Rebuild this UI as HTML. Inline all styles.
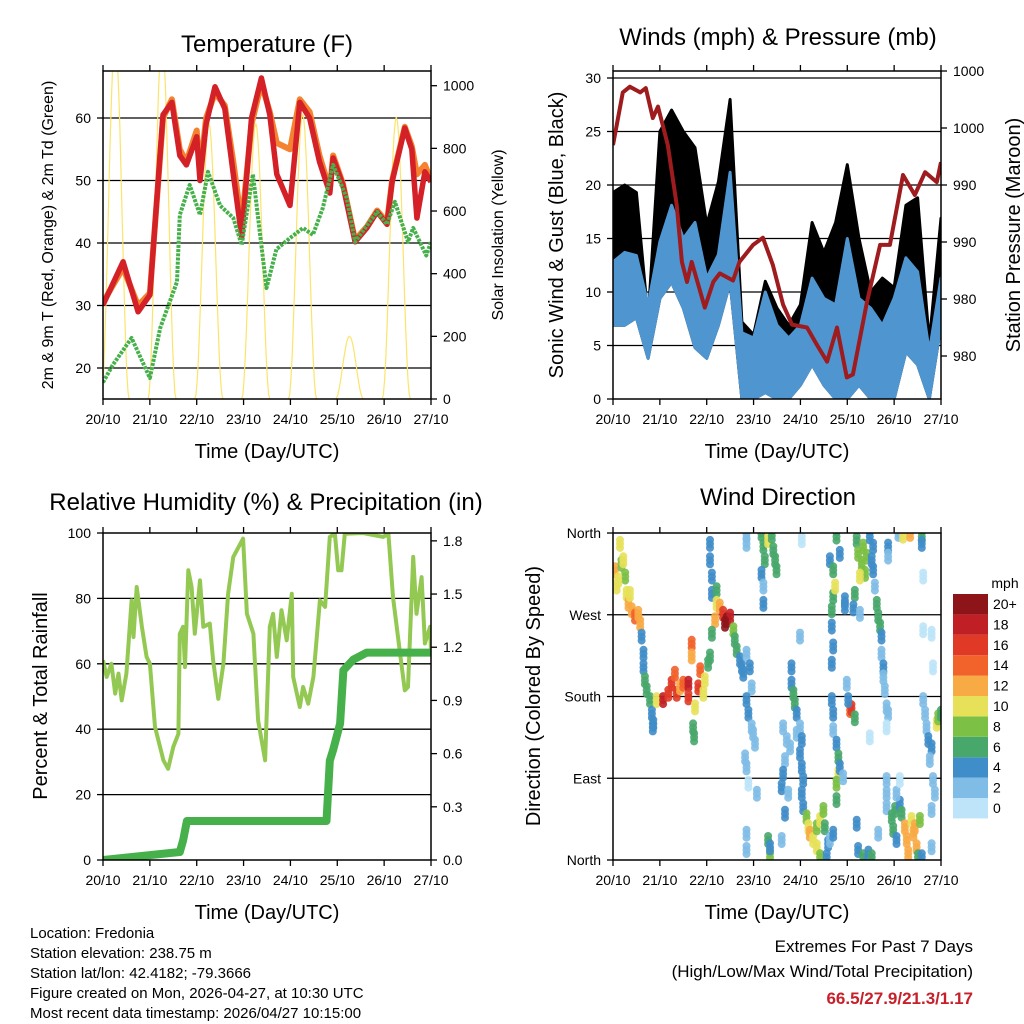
<!DOCTYPE html>
<html><head><meta charset="utf-8"><style>
body{margin:0;background:#fff}
svg{display:block;font-family:"Liberation Sans",sans-serif}
</style></head><body>
<svg id="c" width="1024" height="1024" viewBox="0 0 1024 1024">
<defs>
<clipPath id="cp1"><rect x="103" y="71" width="328" height="328"/></clipPath>
<clipPath id="cp2"><rect x="613" y="71" width="328" height="328"/></clipPath>
<clipPath id="cp3"><rect x="103" y="533" width="328" height="327"/></clipPath>
<clipPath id="cp4"><rect x="613" y="533" width="328" height="327"/></clipPath>
</defs>
<g id="layer"></g>
</svg>
<script>
// ---------- data ----------
const dayLabels = ['20/10','21/10','22/10','23/10','24/10','25/10','26/10','27/10'];
const tempDays = [0,0.43,0.75,1.0,1.28,1.47,1.64,1.78,2.0,2.07,2.2,2.39,2.6,2.78,2.96,3.17,3.38,3.56,3.71,3.99,4.2,4.41,4.62,4.84,4.91,5.12,5.38,5.63,5.85,6.06,6.17,6.44,6.59,6.7,6.87,7.0];
const temp2m = [30.1,37,29,31.7,60.5,62.5,54,52.5,57,50,59,65,61.5,51,41,60,66.4,60.5,51,46,62.5,60,53,48,53.6,49.3,40.2,42.4,45,43,49.8,58.4,55,44,51.4,49.8];
const temp9m = [30.5,36,30,32,60,63,55,53,58,51,60,64,62,53,43,59,65.5,61,56,55,63,61,54,48.5,54,49.5,40.5,42.6,45.2,43.3,50,58.6,55.5,51,52.5,50];
const dewDays = [0,0.21,0.61,1.0,1.22,1.58,1.64,1.85,2.07,2.24,2.5,2.78,2.96,3.2,3.49,3.7,3.99,4.27,4.48,4.69,4.91,5.2,5.38,5.85,6.06,6.23,6.51,6.62,6.9,7.0];
const dewPoint = [17.7,20.5,24.8,18.4,26.4,33.8,44.5,49.3,44.5,51.4,46,44,39.7,51,32.8,39,40.8,42.4,41.3,45.6,52.5,47.2,40.2,45,43,46.6,40.2,42.4,38,40.2];
const solarPeak = [1150,1150,880,880,910,200,900];
const windDays = [0,0.25,0.5,0.75,1,1.25,1.5,1.75,2,2.25,2.5,2.75,3,3.25,3.5,3.75,4,4.25,4.5,4.75,5,5.25,5.5,5.75,6,6.25,6.5,6.75,7];
const windLo = [6.9,6.9,7.6,3.8,9.4,10.9,8.5,4.8,3.8,6.9,10.9,0,0,0.6,0,0,1.3,3.2,1.3,0,0,1.3,0,0,0,4.4,3.2,0,6.9];
const windHi = [12.8,13.7,13.4,8.8,14.7,18.1,15,16.5,11.3,13.5,21.2,6.2,5.7,10,6.9,5.7,6.9,11.3,9.4,8.8,15,9.4,8.5,6.9,9.4,13.2,11.9,4.4,11.3];
const gustHi = [19.3,20,19.3,7.5,25,27,25,23.5,16.3,20.3,28,7.2,6,11,8.5,6.9,8.8,16.5,13.7,16.5,21.9,15,10,11.3,10.4,18.1,18.8,5.3,16.9];
const presDays = [0,0.21,0.36,0.58,0.7,0.85,0.96,1.17,1.36,1.47,1.58,1.68,1.82,1.96,2.14,2.28,2.56,2.7,2.99,3.2,3.41,3.63,3.82,4.14,4.35,4.57,4.78,4.99,5.12,5.42,5.7,5.91,6.19,6.44,6.66,6.91,7.0];
const pressure = [994.8,998.5,998.9,998.5,998.8,996.7,997.5,994.8,990.6,986.6,985.2,986.6,985,983.4,985.2,985.8,985.3,986.6,987.8,988.3,986.4,983.6,982.2,982,980.8,979.6,982,978.5,978.7,983.8,987.8,987.8,992.7,991.3,992.9,992.2,993.6];
const presTicks = [980,984,988,992,996,1000];
const presLabels = ['980','980','990','990','1000','1000'];
const rhDays = [0,0.08,0.18,0.26,0.33,0.40,0.50,0.61,0.65,0.72,0.83,0.93,1.0,1.11,1.29,1.39,1.50,1.61,1.64,1.71,1.75,1.82,1.89,1.96,2.07,2.14,2.28,2.35,2.46,2.57,2.67,2.78,2.99,3.07,3.21,3.24,3.31,3.46,3.56,3.63,3.71,3.81,3.92,4.03,4.06,4.20,4.27,4.38,4.49,4.63,4.74,4.84,4.95,5.02,5.09,5.16,5.55,5.98,6.09,6.19,6.34,6.44,6.51,6.62,6.69,6.80,6.87,6.98,7.0];
const rhVals = [61.1,56,60,50.9,57,48.8,57,79.4,68.2,83.5,71.3,62.1,60,40.7,30.5,27.9,34.6,38.6,69.2,71.3,59,88.6,83.5,69.2,85.5,71.3,72.3,61.1,49.3,60,81.4,92.7,98.3,75.3,69.2,61.1,42.7,30.5,71.3,75.3,62.1,76.4,67.2,81.4,56,46.8,52.9,47.8,56,79.4,77.4,98.8,99.8,88.6,88.6,99.8,100,98.8,99.8,80.4,63.1,51.9,52.9,92.7,75.3,86.5,66.2,71.3,64.1];
const precipDays = [0,1.64,1.71,1.79,4.77,4.84,4.91,5.06,5.13,5.34,5.63,7.0];
const precipVals = [0,0.045,0.11,0.22,0.22,0.56,0.62,0.77,1.07,1.13,1.17,1.17];
const dirDay = [0.04,0.08,0.15,0.18,0.26,0.29,0.33,0.40,0.47,0.54,0.58,0.36,0.11,0.22,
0.61,0.65,0.65,0.68,0.72,0.79,0.83,0.86,0.85,
0.93,1.07,1.18,1.25,1.32,1.36,1.43,1.50,1.61,1.61,1.68,1.68,1.75,1.82,1.86,1.93,1.96,2.03,2.07,1.71,1.73,
2.07,2.07,2.11,2.11,2.21,2.21,2.28,2.35,2.43,2.50,2.39,2.18,2.11,2.57,2.60,2.64,2.71,2.75,2.78,2.85,2.92,2.96,2.85,2.89,2.96,2.99,3.03,2.82,2.85,2.89,3.07,2.85,2.85,
3.17,3.21,3.24,3.31,3.39,3.42,3.46,3.49,3.17,3.21,3.21,2.85,2.85,4.03,3.99,
3.31,3.35,3.35,3.60,
3.81,3.81,3.85,3.88,3.92,3.63,3.71,3.78,3.67,3.63,3.60,3.67,3.74,3.92,3.99,4.03,3.99,4.03,4.06,4.03,4.06,4.13,4.17,4.20,4.27,4.35,4.42,4.35,4.42,4.49,4.52,4.59,4.56,4.63,4.70,
4.63,4.70,4.70,4.67,4.67,4.70,4.67,4.67,4.70,4.70,4.77,4.81,4.81,4.77,4.77,4.84,4.91,4.77,4.84,4.74,
4.95,4.95,4.99,5.06,5.09,5.16,5.02,5.20,5.23,5.34,5.45,5.52,
5.20,5.23,5.31,5.34,5.38,5.27,5.41,5.48,5.55,5.52,5.16,5.13,5.27,5.55,5.59,5.63,5.66,5.70,5.73,5.73,5.77,5.77,5.80,5.84,5.87,5.84,5.84,5.84,5.84,5.48,5.66,
5.87,5.87,6.09,6.19,6.34,6.59,6.59,6.62,6.62,6.80,6.83,
5.95,5.98,6.02,6.05,6.12,6.16,6.23,6.27,6.30,6.37,6.41,6.48,6.44,6.55,6.51,6.59,6.05,6.12,
6.62,6.66,6.69,6.73,6.80,6.76,6.83,6.87,6.80,6.80,6.91,6.94,7.0];
const dirDeg = [319,301,348,326,312,293,282,275,268,271,260,293,308,330,
246,227,212,198,187,176,161,150,146,
176,176,183,194,205,183,190,194,194,179,238,224,168,190,209,183,198,216,224,146,135,
348,330,312,293,297,282,279,271,264,268,260,264,249,253,242,231,220,212,205,227,212,190,176,161,146,139,128,113,102,84,73,29,11,
359,345,330,352,357,341,330,319,315,301,282,359,348,352,246,
22,7,14,22,
212,194,183,172,161,146,132,124,110,95,80,51,73,139,146,132,117,102,88,73,58,47,36,29,22,14,3,36,44,55,36,18,3,22,29,
330,319,290,275,257,235,216,176,161,143,128,113,95,84,66,102,91,356,337,301,
286,279,194,165,167,156,176,40,11,3,7,3,
352,337,326,345,315,312,334,356,345,330,293,277,271,319,301,282,268,257,246,227,212,201,187,168,161,146,88,73,58,135,29,
345,334,359,357,359,356,348,312,253,249,212,
47,33,55,22,62,51,36,22,7,44,29,14,36,44,3,3,73,88,
176,161,146,132,124,110,88,73,55,14,150,157,161];
const dirSpd = [12,10,10,8,8,10,12,12,14,12,12,10,10,10,
4,4,4,6,6,6,4,4,4,
10,18,16,16,14,16,12,14,18,16,14,12,10,16,14,10,10,6,6,6,6,
4,4,4,4,6,10,12,16,20,18,20,12,6,8,6,6,4,4,4,2,4,2,4,4,2,2,2,2,2,0,2,2,2,
6,6,6,10,6,6,6,6,4,2,4,2,2,0,2,
6,8,4,2,
4,4,6,6,4,2,2,2,2,4,4,4,2,2,2,4,4,4,4,4,4,8,10,12,10,10,8,8,10,8,6,4,4,2,4,
4,6,6,6,4,4,4,4,4,2,4,6,10,8,6,4,2,6,4,10,
4,4,2,14,16,6,4,4,4,6,4,6,
6,8,8,8,8,10,8,4,4,4,6,4,2,4,2,6,6,6,4,2,4,2,2,2,2,0,2,2,2,0,2,
4,2,2,10,12,6,4,0,0,0,0,
6,6,6,4,4,6,12,12,12,10,12,12,12,8,6,4,2,0,
2,2,2,4,4,2,2,2,2,2,10,8,6];
const speedLabels = ['0','2','4','6','8','10','12','14','16','18','20+'];
const speedColors = ['#bde4f8','#7fbde6','#3f8dc9','#48a76b','#7cc045','#e7e15a','#f8aa45','#f2622b','#e03a27','#c11f26','#8d1519'];

// ---------- helpers ----------
const NS='http://www.w3.org/2000/svg';
const root=document.getElementById('layer');
function mk(tag,attrs,parent){const e=document.createElementNS(NS,tag);for(const k in attrs)e.setAttribute(k,attrs[k]);(parent||root).appendChild(e);return e;}
function txt(s,x,y,size,anchor,parent,extra){const e=mk('text',Object.assign({x:x,y:y,'font-size':size,'text-anchor':anchor||'middle',fill:'#000'},extra||{}),parent);e.textContent=s;return e;}
const DX=46.857;
const X1=d=>103+d*DX, X2=d=>613+d*DX;
const yT=v=>368-(v-20)*6.25, yS=s=>399-s*0.3133;
const yW=v=>399-v*10.7, yP=p=>356-(p-980)*14.25;
const yR=v=>860-v*3.27, yPr=v=>860-v*177.3;
const yD=g=>860-g*0.9083;
function pts(xs,ys,fx,fy){return xs.map((d,i)=>fx(d).toFixed(1)+','+fy(ys[i]).toFixed(1)).join(' ');}

function frame(x,y,w,h,name,grid){
  const g=mk('g',{});
  
  
  grid.forEach(gy=>mk('line',{x1:x,x2:x+w,y1:gy,y2:gy,stroke:'#000','stroke-width':1.3},g));
  for(let i=0;i<=7;i++){const tx=x+i*DX;
    mk('line',{x1:tx,x2:tx,y1:y,y2:y-6,stroke:'#000','stroke-width':1.3},g);
    mk('line',{x1:tx,x2:tx,y1:y+h,y2:y+h+6,stroke:'#000','stroke-width':1.3},g);
    const t=txt(dayLabels[i],tx,y+h+25,14,'middle',g);
    
    
  }
  const xt=txt('Time (Day/UTC)',x+w/2,y+h+59,20,'middle',g);
  
  
  return g;
}
function box(x,y,w,h){const r=mk('rect',{x:x,y:y,width:w,height:h,fill:'none',stroke:'#000','stroke-width':1.5});}
function ytick(g,x,y,label,side){
  mk('line',{x1:x,x2:x+side*6,y1:y,y2:y,stroke:'#000','stroke-width':1.3},g);
  const t=txt(label,x+side*12,y+5,14,side<0?'end':'start',g);
  
  
}

// ---------- Panel 1: temperature ----------
frame(103,71,328,328,'temperature-panel',[20,30,40,50,60].map(yT));
const g1=mk('g',{'clip-path':'url(#cp1)'});


solarPeak.forEach((pk,day)=>{
  const xs=[],ys=[];
  for(let k=-12;k<=12;k++){const dd=day+0.26+k*0.025;if(dd<0)continue;const f=Math.cos(k/12*Math.PI/2);xs.push(dd);ys.push(pk*f*f);}
  const l=mk('polyline',{points:pts(xs,ys,X1,yS),fill:'none',stroke:'#fbe46b','stroke-width':1.2},g1);
  
  
});
let l9=mk('polyline',{points:pts(tempDays,temp9m,X1,yT),fill:'none',stroke:'#f58230','stroke-width':6,'stroke-linejoin':'round'},g1);


let l2=mk('polyline',{points:pts(tempDays,temp2m,X1,yT),fill:'none',stroke:'#d42027','stroke-width':5.5,'stroke-linejoin':'round'},g1);


let ld=mk('polyline',{points:pts(dewDays,dewPoint,X1,yT),fill:'none',stroke:'#46b04a','stroke-width':4,'stroke-dasharray':'3 1.2','stroke-linejoin':'round'},g1);


box(103,71,328,328);
const a1=mk('g',{});


[20,30,40,50,60].forEach(v=>ytick(a1,103,yT(v),String(v),-1));
[0,200,400,600,800,1000].forEach(v=>ytick(a1,431,yS(v),String(v),1));
txt('Temperature (F)',267,52,24,'middle',a1);
txt('2m & 9m T (Red, Orange) & 2m Td (Green)',0,0,16,'middle',a1,{transform:'translate(53,235) rotate(-90)'});
txt('Solar Insolation (Yellow)',0,0,16,'middle',a1,{transform:'translate(503,235) rotate(-90)'});

// ---------- Panel 2: winds ----------
frame(613,71,328,328,'winds-panel',[5,10,15,20,25,30].map(yW));
const g2=mk('g',{'clip-path':'url(#cp2)'});


function band(lo,hi,col,name){
  const p=windDays.map((d,i)=>X2(d).toFixed(1)+','+yW(hi[i]).toFixed(1)).concat(windDays.slice().reverse().map((d,j)=>{const i=windDays.length-1-j;return X2(d).toFixed(1)+','+yW(lo[i]).toFixed(1);})).join(' ');
  const e=mk('polygon',{points:p,fill:col,stroke:col,'stroke-width':3,'stroke-linejoin':'round'},g2);
  
  
}
band(windLo,gustHi,'#000','gust-band');
band(windLo,windHi,'#4f96d1','sonic-wind-band');
let lp=mk('polyline',{points:pts(presDays,pressure,X2,yP),fill:'none',stroke:'#9e1b1e','stroke-width':4,'stroke-linejoin':'round'},g2);


box(613,71,328,328);
const a2=mk('g',{});


[0,5,10,15,20,25,30].forEach(v=>ytick(a2,613,yW(v),String(v),-1));
presTicks.forEach((p,i)=>ytick(a2,941,yP(p),presLabels[i],1));
txt('Winds (mph) & Pressure (mb)',778,45,24,'middle',a2);
txt('Sonic Wind & Gust (Blue, Black)',0,0,20,'middle',a2,{transform:'translate(563,235) rotate(-90)'});
txt('Station Pressure (Maroon)',0,0,20,'middle',a2,{transform:'translate(1020,235) rotate(-90)'});

// ---------- Panel 3: RH ----------
frame(103,533,328,327,'humidity-panel',[20,40,60,80].map(yR));
const g3=mk('g',{'clip-path':'url(#cp3)'});


let lr=mk('polyline',{points:pts(rhDays,rhVals,X1,yR),fill:'none',stroke:'#93c952','stroke-width':4,'stroke-linejoin':'round'},g3);


let lpr=mk('polyline',{points:pts(precipDays,precipVals,X1,yPr),fill:'none',stroke:'#46b04a','stroke-width':8,'stroke-linejoin':'round'},g3);


box(103,533,328,327);
const a3=mk('g',{});


[0,20,40,60,80,100].forEach(v=>ytick(a3,103,yR(v),String(v),-1));
[0,0.3,0.6,0.9,1.2,1.5,1.8].forEach(v=>ytick(a3,431,yPr(v),v.toFixed(1),1));
txt('Relative Humidity (%) & Precipitation (in)',266,510,24,'middle',a3);
txt('Percent & Total Rainfall',0,0,20,'middle',a3,{transform:'translate(47,696) rotate(-90)'});

// ---------- Panel 4: wind direction ----------
frame(613,533,328,327,'wind-direction-panel',[90,180,270].map(yD));
const g4=mk('g',{'clip-path':'url(#cp4)'});


dirDay.forEach((d,i)=>{
  const idx=Math.min(10,Math.floor(dirSpd[i]/2));
  [-4,4,0].forEach(off=>{
    const c=mk('circle',{cx:X2(d).toFixed(1),cy:(yD(dirDeg[i])+off).toFixed(1),r:4,fill:speedColors[idx],'fill-opacity':0.9},g4);
    
    
  });
});
box(613,533,328,327);
const a4=mk('g',{});


[['North',0],['East',90],['South',180],['West',270],['North',360]].forEach(([n,g])=>ytick(a4,613,yD(g),n,-1));
txt('Wind Direction',778,505,24,'middle',a4);
txt('Direction (Colored By Speed)',0,0,20,'middle',a4,{transform:'translate(540,696) rotate(-90)'});
const cb=mk('g',{});


txt('mph',1005,588,14,'middle',cb);
speedColors.forEach((c,i)=>{
  const y=798-i*20.4;
  const r=mk('rect',{x:953,y:y,width:35,height:20.4,fill:c},cb);
  
  
  txt(speedLabels[i],993,y+15,14,'start',cb);
});

// ---------- footer ----------
const ft=mk('g',{});


['Location: Fredonia','Station elevation: 238.75 m','Station lat/lon: 42.4182; -79.3666','Figure created on Mon, 2026-04-27, at 10:30 UTC','Most recent data timestamp: 2026/04/27 10:15:00'].forEach((s,i)=>txt(s,30,938+i*20,15,'start',ft));
const ex=mk('g',{});


txt('Extremes For Past 7 Days',973,952,17,'end',ex);
txt('(High/Low/Max Wind/Total Precipitation)',973,977,17,'end',ex);
txt('66.5/27.9/21.3/1.17',973,1004,17,'end',ex,{fill:'#c8202a','font-weight':'bold'});
</script>
</body></html>
